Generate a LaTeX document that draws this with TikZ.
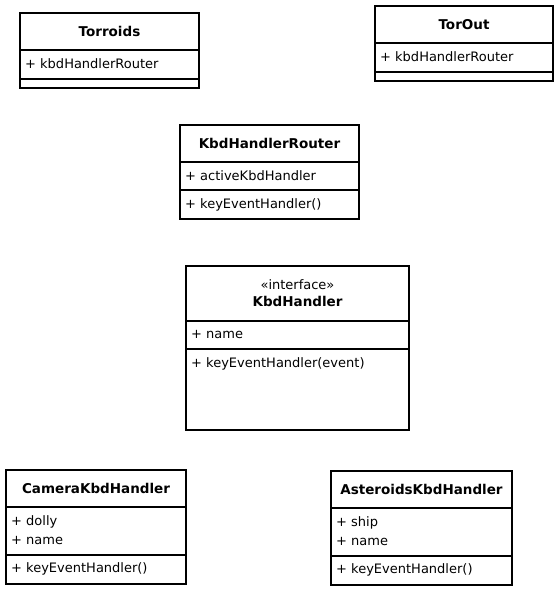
\documentclass[tikz,border=0pt]{standalone}
\usepackage{fontspec}
\setmainfont{DejaVu Sans}
\usetikzlibrary{positioning}

\tikzset{
  classbox/.style={draw, line width=1.5pt},
  classname/.style={anchor=base, inner sep=0pt, font=\fontsize{13.5}{16}\selectfont\bfseries},
  stereotype/.style={anchor=base, inner sep=0pt, font=\fontsize{13}{16}\selectfont},
  member/.style={anchor=base west, inner sep=0pt, font=\fontsize{13}{16}\selectfont}
}

\begin{document}
\begin{tikzpicture}[x=1pt, y=-1pt]
\useasboundingbox (0,0) rectangle (559,590);

% Torroids
\draw[classbox] (20,13) rectangle (199,88);
\draw[classbox] (20,50) -- (199,50);
\draw[classbox] (20,79) -- (199,79);
\node[classname] (torroidsName) at (109.5,36) {Torroids};
\node[member] (torroidsAttr) at (25,68) {+ kbdHandlerRouter};

% TorOut
\draw[classbox] (375,6) rectangle (553,81);
\draw[classbox] (375,43) -- (553,43);
\draw[classbox] (375,72) -- (553,72);
\node[classname] (torOutName) at (464,29) {TorOut};
\node[member] (torOutAttr) at (380,61) {+ kbdHandlerRouter};

% KbdHandlerRouter
\draw[classbox] (180,125) rectangle (359,219);
\draw[classbox] (180,162) -- (359,162);
\draw[classbox] (180,190) -- (359,190);
\node[classname] (routerName) at (269.5,148) {KbdHandlerRouter};
\node[member] (routerAttr) at (185,180) {+ activeKbdHandler};
\node[member] (routerOp) at (185,208) {+ keyEventHandler()};

% KbdHandler interface
\draw[classbox] (186,266) rectangle (409,430);
\draw[classbox] (186,321) -- (409,321);
\draw[classbox] (186,349) -- (409,349);
\node[stereotype] (handlerStereo) at (297.5,289) {«interface»};
\node[classname] (handlerName) at (297.5,306) {KbdHandler};
\node[member] (handlerAttr) at (191,338) {+ name};
\node[member] (handlerOp) at (191,367) {+ keyEventHandler(event)};

% CameraKbdHandler
\draw[classbox] (6,470) rectangle (186,584);
\draw[classbox] (6,507) -- (186,507);
\draw[classbox] (6,555) -- (186,555);
\node[classname] (cameraName) at (96,493) {CameraKbdHandler};
\node[member] (cameraDolly) at (11,525) {+ dolly};
\node[member] (cameraAttr) at (11,544) {+ name};
\node[member] (cameraOp) at (11,572) {+ keyEventHandler()};

% AsteroidsKbdHandler
\draw[classbox] (331,471) rectangle (512,585);
\draw[classbox] (331,508) -- (512,508);
\draw[classbox] (331,556) -- (512,556);
\node[classname] (asteroidsName) at (421.5,494) {AsteroidsKbdHandler};
\node[member] (asteroidsShip) at (336,526) {+ ship};
\node[member] (asteroidsAttr) at (336,545) {+ name};
\node[member] (asteroidsOp) at (336,573) {+ keyEventHandler()};
\end{tikzpicture}
\end{document}
